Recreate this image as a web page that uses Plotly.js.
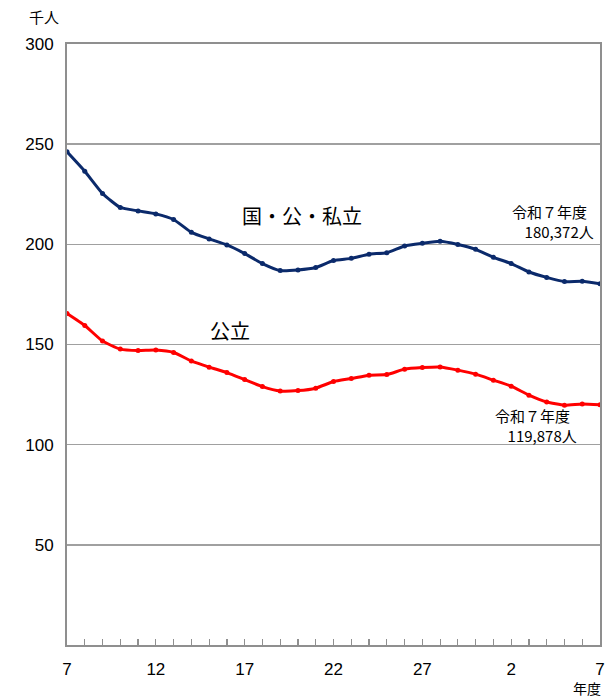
<!DOCTYPE html>
<html>
<head>
<meta charset="utf-8">
<script src="https://cdn.plot.ly/plotly-3.0.1.min.js"></script>
<style>html,body{margin:0;padding:0;background:#fff;}#chart{width:613px;height:700px;}</style>
</head>
<body>
<div id="chart"></div>
<script>
// x positions: 平成7年度 ... 平成30年度, 令和元年度 ... 令和7年度 (31 years)
const yearIndex = Array.from({length: 31}, (_, i) => i);
const tickPos = [0, 5, 10, 15, 20, 25, 30];
const tickLabels = ['7', '12', '17', '22', '27', '2', '7'];

// 国・公・私立 (千人)
const allSchools = [246.2, 236.5, 225.4, 218.4, 216.7, 215.2, 212.4, 206.0, 202.7, 199.7,
  195.4, 190.4, 186.9, 187.2, 188.4, 191.9, 193.0, 195.1, 195.8, 199.2,
  200.5, 201.5, 199.9, 197.5, 193.5, 190.4, 186.2, 183.5, 181.4, 181.6, 180.372];

// 公立 (千人)
const publicSchools = [165.5, 159.5, 151.7, 147.7, 147.0, 147.2, 146.0, 141.8, 138.7, 136.0,
  132.5, 129.0, 126.8, 127.0, 128.2, 131.5, 133.0, 134.7, 135.0, 137.7,
  138.5, 138.8, 137.2, 135.2, 132.2, 129.2, 124.7, 121.3, 119.7, 120.3, 119.878];

const yTicks = [50, 100, 150, 200, 250, 300];

const jp = '"Noto Sans CJK JP", sans-serif';
const num = '"Liberation Sans", Arial, sans-serif';
const gray = '#8f8f8f';

const traces = [
  {
    x: yearIndex, y: allSchools, type: 'scatter', mode: 'lines+markers',
    line: {color: '#0b2a6b', width: 3, shape: 'spline', smoothing: 0.5},
    marker: {color: '#0b2a6b', size: 5}, hoverinfo: 'y'
  },
  {
    x: yearIndex, y: publicSchools, type: 'scatter', mode: 'lines+markers',
    line: {color: '#ff0000', width: 3, shape: 'spline', smoothing: 0.5},
    marker: {color: '#ff0000', size: 5}, hoverinfo: 'y'
  }
];

const smallLabel = {family: jp, size: 15, color: '#000'};

const layout = {
  width: 613, height: 700,
  margin: {l: 67, r: 13, t: 44, b: 55, pad: 0},
  paper_bgcolor: '#fff', plot_bgcolor: '#fff',
  showlegend: false,
  xaxis: {
    range: [0, 30], tickmode: 'array', tickvals: tickPos, ticktext: tickLabels,
    ticks: 'inside', ticklen: 6, tickcolor: gray, tickwidth: 1.2,
    minor: {tickmode: 'linear', tick0: 0, dtick: 1, ticks: 'inside', ticklen: 6, tickcolor: gray, tickwidth: 1.2, showgrid: false},
    showgrid: false, zeroline: false,
    showline: true, linecolor: gray, linewidth: 2, mirror: true,
    tickfont: {family: num, size: 17, color: '#000'},
    ticklabelstandoff: 8, fixedrange: true
  },
  yaxis: {
    range: [0, 300], tickmode: 'array', tickvals: yTicks,
    ticks: '', showgrid: true, gridcolor: '#a0a0a0', gridwidth: 1.5,
    zeroline: false, showline: true, linecolor: gray, linewidth: 2, mirror: true,
    tickfont: {family: num, size: 17, color: '#000'},
    ticklabelstandoff: 8, fixedrange: true
  },
  annotations: [
    {text: '千人', xref: 'paper', yref: 'paper', x: -0.043, y: 1.045, xanchor: 'center', yanchor: 'middle',
     showarrow: false, font: {family: jp, size: 15, color: '#000'}},
    {text: '年度', xref: 'paper', yref: 'paper', x: 0.976, y: -0.0715, xanchor: 'center', yanchor: 'middle',
     showarrow: false, font: {family: jp, size: 14, color: '#000'}},
    {text: '国・公・私立', xref: 'x', yref: 'y', x: 13.2, y: 214.3, xanchor: 'center', yanchor: 'middle',
     showarrow: false, font: {family: jp, size: 20, color: '#000'}},
    {text: '公立', xref: 'x', yref: 'y', x: 9.2, y: 156.8, xanchor: 'center', yanchor: 'middle',
     showarrow: false, font: {family: jp, size: 20, color: '#000'}},
    {text: '令和７年度&nbsp;&nbsp;<br>180,372人', xref: 'x', yref: 'y', x: 29.7, y: 211.6,
     xanchor: 'right', yanchor: 'middle', align: 'right', borderpad: 0,
     showarrow: false, font: smallLabel},
    {text: '令和７年度&nbsp;&nbsp;<br>119,878人', xref: 'x', yref: 'y', x: 28.77, y: 109.6,
     xanchor: 'right', yanchor: 'middle', align: 'right', borderpad: 0,
     showarrow: false, font: smallLabel}
  ]
};

Plotly.newPlot('chart', traces, layout, {displayModeBar: false, staticPlot: true});
</script>
</body>
</html>
